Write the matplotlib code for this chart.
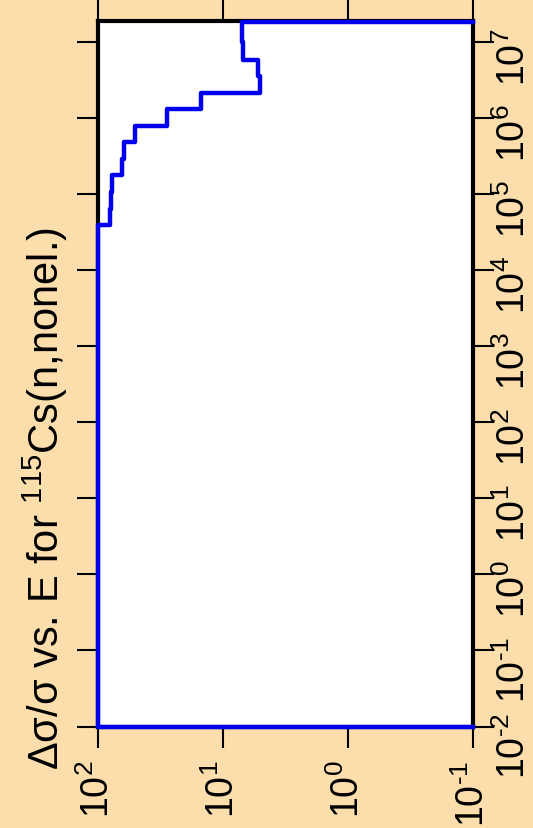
import numpy as np
import matplotlib.pyplot as plt

plt.rcParams['font.family'] = ['Liberation Sans', 'DejaVu Sans']
plt.rcParams['mathtext.fontset'] = 'custom'
plt.rcParams['mathtext.rm'] = 'Liberation Sans'
plt.rcParams['mathtext.it'] = 'Liberation Sans:italic'
plt.rcParams['mathtext.bf'] = 'Liberation Sans:bold'

# group boundaries in energy (eV), lowest to highest
energy_edges = [1e-2, 3.97e4, 6.4e4, 1.08e5, 1.8e5, 2.9e5, 4.9e5, 7.9e5,
                1.33e6, 2.16e6, 3.6e6, 5.85e6, 1.0e7, 1.85e7]
# relative uncertainty (%) in each group
rel_unc = [100, 80.5, 79, 77.3, 65, 63, 50.8, 28.3, 15.1, 5.07, 5.26, 6.98, 7.11]

unc_ticks = [100, 10, 1, 0.1]
unc_labels = [r'$10^{2}$', r'$10^{1}$', r'$10^{0}$', r'$10^{\text{-}1}$']
e_ticks = [10.0 ** k for k in range(-2, 8)]
e_labels = [(r'$10^{\text{-}%d}$' % -k) if k < 0 else (r'$10^{%d}$' % k)
            for k in range(-2, 8)]

unc_min, unc_max = 0.1, 100
e_min, e_max = 1e-2, 1.9e7

# build the step outline (zero outside the groups -> drawn at the axis floor)
e_step = np.repeat(energy_edges, 2)[1:-1]
u_step = np.repeat(rel_unc, 2)
e_step = np.concatenate([[energy_edges[0]], e_step, [energy_edges[-1]]])
u_step = np.concatenate([[unc_min], u_step, [unc_min]])

fig = plt.figure(figsize=(5.33, 8.29), dpi=100, facecolor='#FCDEAD')
ax = fig.add_axes([0.1848, 0.1224, 0.7026, 0.851])
ax.set_facecolor('white')

ax.plot(u_step, e_step, color='#0000EE', lw=3.2, clip_on=False, zorder=3)

ax.set_xscale('log')
ax.set_yscale('log')
ax.set_xlim(unc_max, unc_min)
ax.set_ylim(e_min, e_max)
ax.minorticks_off()
ax.set_xticks(unc_ticks)
ax.set_xticklabels(unc_labels)
ax.set_yticks(e_ticks)
ax.set_yticklabels(e_labels)

for s in ax.spines.values():
    s.set_linewidth(3)

ax.tick_params(axis='both', which='major', direction='out', length=15, width=1.5,
               top=True, right=True, left=True, bottom=True,
               labeltop=False, labelleft=False, labelright=True, labelbottom=True,
               labelsize=27)
ax.tick_params(axis='x', labelrotation=90, pad=9)
ax.tick_params(axis='y', labelrotation=90, pad=1)

fig.text(45 / 533, (829 - 770) / 829,
         'Δσ/σ vs. E for $^{115}$Cs(n,nonel.)',
         rotation=90, ha='center', va='bottom', fontsize=30)

fig.savefig('out.png', dpi=100, facecolor=fig.get_facecolor())
plt.close(fig)
